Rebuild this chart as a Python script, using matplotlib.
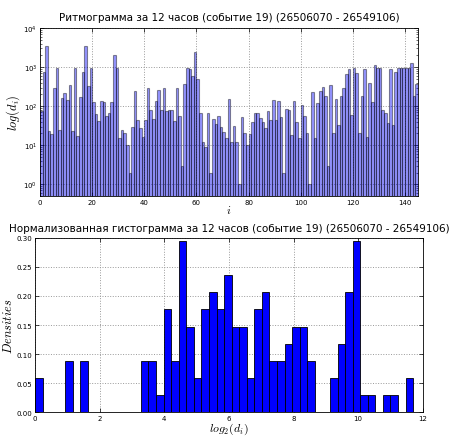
import numpy as np
import matplotlib
matplotlib.use("Agg")
from matplotlib import pyplot as plt

plt.rcParams['mathtext.fontset'] = 'cm'
plt.rcParams['xtick.direction'] = 'in'
plt.rcParams['ytick.direction'] = 'in'
plt.rcParams['xtick.top'] = True
plt.rcParams['ytick.right'] = True

title_top = "Ритмограмма за 12 часов (событие 19) (26506070 - 26549106)"
title_bottom = "Нормализованная гистограмма за 12 часов (событие 19) (26506070 - 26549106)"

# intervals d_i between events
d = [75, 730, 3400, 23, 19, 295, 950, 25, 165, 220,
     147, 355, 23, 950, 17, 170, 730, 3400, 320, 950,
     129, 63, 41, 138, 129, 55, 67, 126, 2080, 950,
     15, 24, 21, 10, 2, 29, 240, 43, 28, 16,
     43, 295, 82, 46, 138, 265, 82, 295, 77, 80,
     80, 41, 300, 55, 3, 370, 950, 900, 600, 2500,
     500, 68, 12, 9, 65, 2, 47, 35, 55, 30,
     22, 15, 155, 12, 31, 12, 1, 53, 21, 10,
     19, 39, 67, 67, 50, 39, 28, 77, 44, 148,
     44, 134, 53, 2, 85, 82, 18, 134, 39, 15,
     104, 55, 21, 1, 225, 15, 121, 240, 310, 178,
     3, 345, 21, 155, 33, 180, 285, 650, 880, 60,
     920, 720, 21, 180, 890, 16, 400, 128, 1140, 930,
     930, 82, 67, 38, 890, 33, 730, 930, 930, 930,
     930, 930, 1270, 178, 370]

# histogram of log2(d_i), 50 bins
hist_max = 11.70
hist_counts = [2, 0, 0, 0, 3, 0, 3, 0, 0, 0,
               0, 0, 0, 0, 3, 3, 1, 6, 3, 10,
               5, 2, 6, 7, 6, 8, 5, 5, 2, 6,
               7, 3, 3, 4, 5, 5, 3, 0, 0, 2,
               4, 7, 10, 1, 1, 0, 1, 1, 0, 2]

n_total = sum(hist_counts)
edges = np.linspace(0, hist_max, len(hist_counts) + 1)
widths = np.diff(edges)
densities = np.array(hist_counts) / (n_total * widths)

fig = plt.figure(figsize=(4.51, 4.39), dpi=100)
fig.patch.set_facecolor('white')

ax1 = fig.add_axes([0.0887, 0.551, 0.838, 0.383])
idx = np.arange(len(d))
ax1.bar(idx, d, width=1.0, align='edge', color='blue', alpha=0.42,
        edgecolor='black', linewidth=0.8, log=True)
ax1.set_yscale('log')
ax1.set_xlim(0, 145)
ax1.set_ylim(0.5, 1e4)
ax1.set_xticks(np.arange(0, 141, 20))
ax1.grid(True, which='major', linestyle=':', color='0.6', linewidth=0.7)
ax1.set_axisbelow(True)
ax1.tick_params(labelsize=5, length=3, width=0.5, pad=2)
ax1.tick_params(which='minor', length=1.5, width=0.4)
ax1.set_title(title_top, fontsize=7.5, pad=6)
ax1.set_xlabel('$i$', fontsize=8, labelpad=-1)
ax1.set_ylabel('$log(d_i)$', fontsize=9, labelpad=1)
for s in ax1.spines.values():
    s.set_linewidth(0.6)

ax2 = fig.add_axes([0.0776, 0.0592, 0.860, 0.3964])
ax2.bar(edges[:-1], densities, width=widths, align='edge', color='blue',
        edgecolor='black', linewidth=0.6)
ax2.set_xlim(0, 12)
ax2.set_ylim(0, 0.30)
ax2.set_xticks(np.arange(0, 13, 2))
ax2.set_yticks(np.arange(0, 0.31, 0.05))
ax2.yaxis.set_major_formatter(matplotlib.ticker.FormatStrFormatter('%.2f'))
ax2.grid(True, linestyle=':', color='0.6', linewidth=0.7)
ax2.set_axisbelow(True)
ax2.tick_params(labelsize=5, length=3, width=0.5, pad=2)
ax2.set_title(title_bottom, fontsize=7.5, pad=5)
ax2.set_xlabel('$log_2(d_i)$', fontsize=8.5, labelpad=0)
ax2.set_ylabel('$Densities$', fontsize=9, labelpad=1)
for s in ax2.spines.values():
    s.set_linewidth(0.6)

fig.savefig('out.png', dpi=100, facecolor='white')
